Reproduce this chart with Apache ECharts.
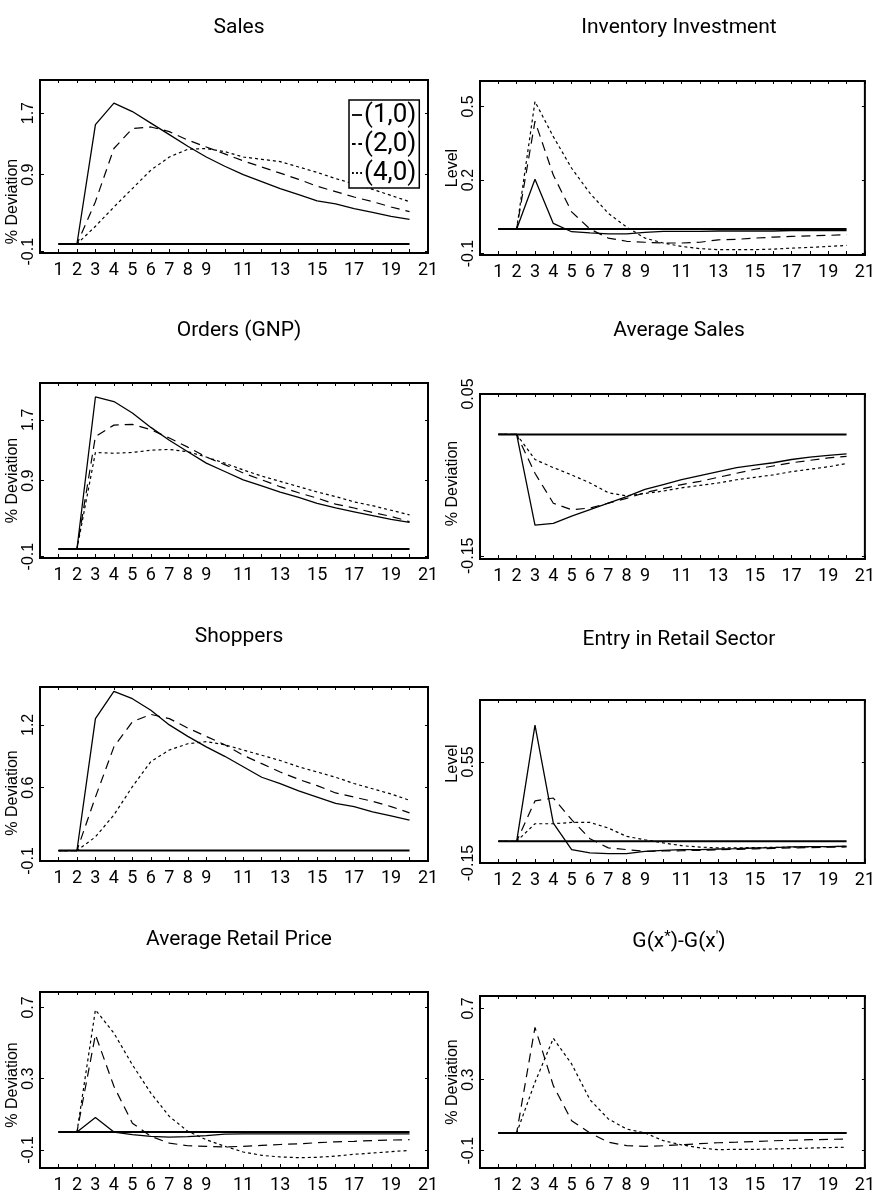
<!DOCTYPE html>
<html>
<head>
<meta charset="utf-8">
<script src="https://cdn.jsdelivr.net/npm/echarts@6/dist/echarts.min.js"></script>
<style>
	html, body { margin: 0; padding: 0; background: #fff; }
	#main { width: 878px; height: 1199px; }
</style>
</head>
<body>
<div id="main"></div>
<script>
// periods on the x axis
var periods = [1, 2, 3, 4, 5, 6, 7, 8, 9, 10, 11, 12, 13, 14, 15, 16, 17, 18, 19, 20];
var xTicks = [1, 2, 3, 4, 5, 6, 7, 8, 9, 10, 11, 12, 13, 14, 15, 16, 17, 18, 19, 20, 21];
var xTickLabels = [1, 2, 3, 4, 5, 6, 7, 8, 9, 11, 13, 15, 17, 19, 21];
var seriesNames = ['(1,0)', '(2,0)', '(4,0)'];
var zeroLine = [0, 0, 0, 0, 0, 0, 0, 0, 0, 0, 0, 0, 0, 0, 0, 0, 0, 0, 0, 0];

var panelTitles = ['Sales', 'Inventory Investment', 'Orders (GNP)', 'Average Sales',
	'Shoppers', 'Entry in Retail Sector', 'Average Retail Price', 'G(x{sup|*})-G(x{sup|\'})'];
var yNames = ['% Deviation', 'Level', '% Deviation', '% Deviation',
	'% Deviation', 'Level', '% Deviation', '% Deviation'];
var yTickLabels = [
	[-0.1, 0.9, 1.7],
	[-0.1, 0.2, 0.5],
	[-0.1, 0.9, 1.7],
	[-0.15, 0.05],
	[-0.1, 0.6, 1.2],
	[-0.15, 0.55],
	[-0.1, 0.3, 0.7],
	[-0.1, 0.3, 0.7]
];

// Sales
var salesA = [0, 0, 1.55, 1.83, 1.72, 1.57, 1.42, 1.27, 1.13, 1.01, 0.90, 0.81, 0.72, 0.64, 0.56, 0.52, 0.46, 0.41, 0.36, 0.32];
var salesB = [0, 0, 0.55, 1.24, 1.50, 1.52, 1.46, 1.35, 1.26, 1.17, 1.08, 1.00, 0.92, 0.84, 0.75, 0.68, 0.61, 0.55, 0.48, 0.42];
var salesC = [0, 0, 0.23, 0.48, 0.72, 0.96, 1.13, 1.23, 1.24, 1.20, 1.13, 1.10, 1.07, 1.00, 0.93, 0.85, 0.78, 0.71, 0.63, 0.55];
// Inventory Investment
var invA = [0, 0, 0.203, 0.023, -0.011, -0.016, -0.02, -0.02, -0.014, -0.01, -0.01, -0.01, -0.008, -0.008, -0.008, -0.008, -0.006, -0.006, -0.006, -0.006];
var invB = [0, 0, 0.44, 0.22, 0.07, 0.0, -0.037, -0.05, -0.054, -0.057, -0.057, -0.054, -0.044, -0.042, -0.037, -0.033, -0.03, -0.028, -0.026, -0.023];
var invC = [0, 0, 0.52, 0.377, 0.248, 0.146, 0.064, 0.008, -0.037, -0.057, -0.071, -0.08, -0.084, -0.084, -0.084, -0.082, -0.078, -0.075, -0.071, -0.067];
// Orders (GNP)
var ordA = [0, 0, 2.00, 1.94, 1.79, 1.60, 1.43, 1.28, 1.13, 1.02, 0.91, 0.83, 0.75, 0.68, 0.60, 0.54, 0.49, 0.44, 0.39, 0.35];
var ordB = [0, 0, 1.48, 1.63, 1.64, 1.57, 1.46, 1.34, 1.21, 1.11, 1.00, 0.91, 0.82, 0.74, 0.67, 0.59, 0.54, 0.48, 0.43, 0.36];
var ordC = [0, 0, 1.27, 1.26, 1.27, 1.30, 1.31, 1.28, 1.21, 1.13, 1.04, 0.96, 0.89, 0.82, 0.75, 0.69, 0.62, 0.57, 0.51, 0.45];
// Average Sales
var avsA = [0, 0, -0.112, -0.110, -0.101, -0.093, -0.085, -0.077, -0.068, -0.062, -0.056, -0.051, -0.046, -0.041, -0.038, -0.035, -0.031, -0.028, -0.026, -0.024];
var avsB = [0, 0, -0.048, -0.085, -0.093, -0.091, -0.085, -0.079, -0.072, -0.067, -0.062, -0.058, -0.053, -0.048, -0.043, -0.039, -0.035, -0.032, -0.029, -0.027];
var avsC = [0, 0, -0.031, -0.041, -0.050, -0.060, -0.072, -0.076, -0.073, -0.070, -0.066, -0.063, -0.060, -0.056, -0.053, -0.050, -0.046, -0.043, -0.040, -0.036];
// Shoppers
var shpA = [0, 0, 1.26, 1.52, 1.45, 1.34, 1.20, 1.09, 0.99, 0.90, 0.80, 0.70, 0.64, 0.57, 0.51, 0.45, 0.42, 0.37, 0.33, 0.29];
var shpB = [0, 0, 0.51, 0.99, 1.23, 1.30, 1.26, 1.17, 1.09, 1.01, 0.91, 0.83, 0.75, 0.68, 0.62, 0.55, 0.51, 0.47, 0.42, 0.36];
var shpC = [0, 0, 0.13, 0.34, 0.61, 0.85, 0.96, 1.02, 1.04, 1.01, 0.96, 0.91, 0.86, 0.80, 0.75, 0.70, 0.64, 0.59, 0.54, 0.48];
// Entry in Retail Sector
var entA = [0, 0, 0.805, 0.126, -0.057, -0.080, -0.085, -0.085, -0.069, -0.062, -0.057, -0.057, -0.053, -0.050, -0.046, -0.044, -0.039, -0.037, -0.036, -0.034];
var entB = [0, 0, 0.28, 0.30, 0.15, 0.018, -0.045, -0.057, -0.069, -0.067, -0.065, -0.062, -0.058, -0.055, -0.052, -0.049, -0.046, -0.043, -0.041, -0.039];
var entC = [0, 0, 0.122, 0.122, 0.131, 0.131, 0.092, 0.034, 0.011, -0.011, -0.03, -0.04, -0.045, -0.045, -0.043, -0.042, -0.040, -0.038, -0.036, -0.035];
// Average Retail Price
var arpA = [0, 0, 0.082, 0, -0.015, -0.024, -0.028, -0.026, -0.02, -0.012, -0.01, -0.01, -0.01, -0.01, -0.01, -0.01, -0.01, -0.01, -0.01, -0.01];
var arpB = [0, 0, 0.547, 0.257, 0.05, -0.024, -0.062, -0.077, -0.08, -0.084, -0.08, -0.075, -0.07, -0.066, -0.06, -0.055, -0.052, -0.048, -0.045, -0.043];
var arpC = [0, 0, 0.687, 0.556, 0.378, 0.219, 0.088, 0.004, -0.043, -0.08, -0.112, -0.131, -0.14, -0.144, -0.142, -0.135, -0.125, -0.118, -0.11, -0.103];
// G(x*)-G(x')
var gA = [0, 0, 0, 0, 0, 0, 0, 0, 0, 0, 0, 0, 0, 0, 0, 0, 0, 0, 0, 0];
var gB = [0, 0, 0.594, 0.266, 0.069, 0, -0.052, -0.071, -0.075, -0.072, -0.066, -0.06, -0.055, -0.052, -0.048, -0.044, -0.041, -0.038, -0.036, -0.034];
var gC = [0, 0, 0.285, 0.532, 0.388, 0.187, 0.079, 0.022, 0, -0.043, -0.067, -0.084, -0.094, -0.092, -0.092, -0.09, -0.088, -0.085, -0.082, -0.08];

(function (window) {
	var NARROW = "Roboto, 'Liberation Sans', sans-serif";
	var PLAIN = "'Liberation Sans', 'DejaVu Sans', sans-serif";
	var seriesData = [
		[salesA, salesB, salesC], [invA, invB, invC],
		[ordA, ordB, ordC], [avsA, avsB, avsC],
		[shpA, shpB, shpC], [entA, entB, entC],
		[arpA, arpB, arpC], [gA, gB, gC]
	];
	// box of each panel, y range and how far the axis name sits below centre
	var layout = [
		{left : 40, top : 80, height : 173, min : -0.117, max : 2.13, shift : 35, titleY : 24},
		{left : 480, top : 81, height : 174, min : -0.106, max : 0.604, shift : 0, titleY : 24},
		{left : 40, top : 383, height : 175, min : -0.118, max : 2.184, shift : 10, titleY : 327},
		{left : 480, top : 394, height : 165, min : -0.154, max : 0.05, shift : 7, titleY : 327},
		{left : 40, top : 687, height : 174, min : -0.1, max : 1.562, shift : 19, titleY : 633},
		{left : 480, top : 700, height : 163, min : -0.15, max : 0.979, shift : -18, titleY : 636},
		{left : 40, top : 992, height : 176, min : -0.202, max : 0.787, shift : 5, titleY : 936},
		{left : 480, top : 996, height : 172, min : -0.197, max : 0.77, shift : 0, titleY : 937}
	];
	var lineTypes = ['solid', [9, 6], [3, 3]];
	var legendIcons = [
		'path://M0,0H11V2H0Z',
		'path://M0,0H4V2H0Z M7,0H11V2H7Z',
		'path://M0,0H2V2H0Z M4.5,0H6.5V2H4.5Z M9,0H11V2H9Z'
	];
	var boxWidth = 388;

	var grids = [], xAxes = [], yAxes = [], titles = [], series = [];
	var topAxes = [], rightAxes = [];
	layout.forEach(function (p, i) {
		grids.push({
			left : p.left, top : p.top, width : boxWidth, height : p.height,
			show : true, borderColor : '#000', borderWidth : 2, containLabel : false
		});
		titles.push({
			text : panelTitles[i],
			left : p.left + boxWidth / 2,
			top : p.titleY - 12,
			textAlign : 'center',
			textStyle : {
				fontFamily : NARROW, fontSize : 21, fontWeight : 'normal', color : '#000',
				rich : {sup : {fontFamily : NARROW, fontSize : 15, color : '#000', padding : [0, 0, 9, 0]}}
			}
		});
		xAxes.push({
			type : 'value', gridIndex : i, min : 0, max : 21, position : 'bottom',
			axisLine : {show : true, onZero : false, lineStyle : {color : '#000', width : 2}},
			axisTick : {show : true, inside : true, length : 4, customValues : xTicks, lineStyle : {color : '#000'}},
			axisLabel : {customValues : xTickLabels, color : '#000', fontFamily : NARROW, fontSize : 18, margin : 8},
			splitLine : {show : false}
		});
		topAxes.push({
			type : 'value', gridIndex : i, min : 0, max : 21, position : 'top',
			axisLine : {show : false, onZero : false},
			axisTick : {show : true, inside : true, length : 3, customValues : xTicks, lineStyle : {color : '#000'}},
			axisLabel : {show : false},
			splitLine : {show : false}
		});
		var pad = p.shift >= 0 ? [0, p.shift * 2, 0, 0] : [0, 0, 0, -p.shift * 2];
		yAxes.push({
			type : 'value', gridIndex : i, min : p.min, max : p.max, position : 'left',
			name : yNames[i], nameLocation : 'middle', nameGap : 15,
			nameTextStyle : {fontFamily : PLAIN, fontSize : 16, color : '#000', padding : pad},
			axisLine : {show : true, onZero : false, lineStyle : {color : '#000', width : 2}},
			axisTick : {show : true, inside : true, length : 4, customValues : yTickLabels[i], lineStyle : {color : '#000'}},
			axisLabel : {
				customValues : yTickLabels[i], rotate : 90, margin : 3,
				fontFamily : PLAIN, fontSize : 16, color : '#000',
				formatter : function (v) { return String(v); }
			},
			splitLine : {show : false}
		});
		rightAxes.push({
			type : 'value', gridIndex : i, min : p.min, max : p.max, position : 'right',
			axisLine : {show : false, onZero : false},
			axisTick : {show : true, inside : true, length : 3, customValues : yTickLabels[i], lineStyle : {color : '#000'}},
			axisLabel : {show : false},
			splitLine : {show : false}
		});
		// flat reference line at zero
		series.push({
			type : 'line', name : 'base', xAxisIndex : i, yAxisIndex : i,
			symbol : 'none', silent : true,
			lineStyle : {color : '#000', width : 2},
			data : periods.map(function (x, j) { return [x, zeroLine[j]]; })
		});
		seriesData[i].forEach(function (arr, k) {
			series.push({
				type : 'line', name : seriesNames[k], xAxisIndex : i, yAxisIndex : i,
				symbol : 'none',
				lineStyle : {color : '#000', width : k == 0 ? 1.3 : 1.2, type : lineTypes[k]},
				itemStyle : {color : '#000'},
				data : periods.map(function (x, j) { return [x, arr[j]]; })
			});
		});
	});

	var chart = echarts.init(document.getElementById('main'));
	chart.setOption({
		animation : false,
		backgroundColor : '#fff',
		title : titles,
		grid : grids,
		xAxis : xAxes.concat(topAxes),
		yAxis : yAxes.concat(rightAxes),
		legend : {
			data : seriesNames.map(function (name, k) {
				return {name : name, icon : legendIcons[k]};
			}),
			orient : 'vertical', left : 349, top : 100,
			itemWidth : 10, itemHeight : 2, itemGap : 3,
			borderColor : '#000', borderWidth : 1.5, backgroundColor : '#fff',
			padding : [2, 3, 2, 3],
			itemStyle : {color : '#000'},
			textStyle : {fontFamily : NARROW, fontSize : 26, color : '#000', padding : [0, 0, 0, -3]}
		},
		series : series
	});
})(window);
</script>
</body>
</html>
